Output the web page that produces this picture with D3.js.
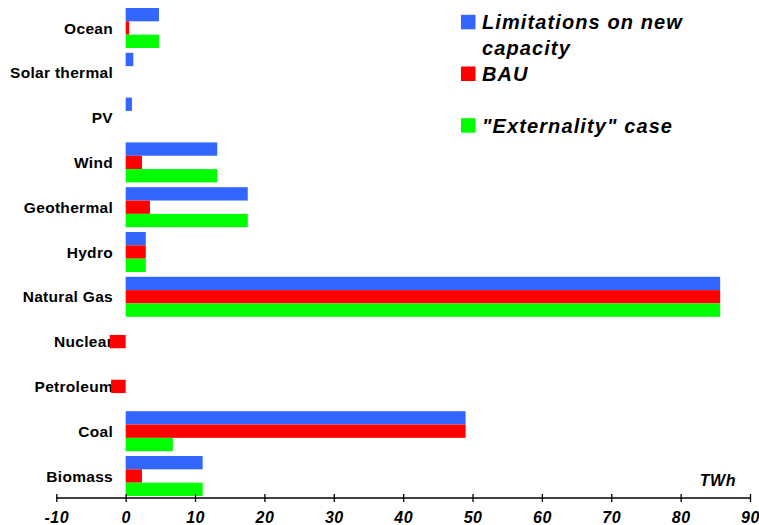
<!DOCTYPE html>
<html><head><meta charset="utf-8">
<script src="https://cdn.jsdelivr.net/npm/d3@7"></script>
<style>
html,body{margin:0;padding:0;background:#fff;}
svg{display:block;}
</style>
</head><body>
<svg id="chart" width="759" height="525"></svg>
<script>
const categories = ["Ocean","Solar thermal","PV","Wind","Geothermal","Hydro","Natural Gas","Nuclear","Petroleum","Coal","Biomass"];
const seriesNames = ["Limitations on new capacity","BAU","\"Externality\" case"];
const limitations = [4.8, 1.1, 0.9, 13.2, 17.6, 2.9, 85.7, 0, 0, 49.0, 11.1];
const bau         = [0.5, 0, 0, 2.35, 3.5, 2.9, 85.7, -2.3, -2.1, 49.0, 2.35];
const externality = [4.8, 0, 0, 13.2, 17.6, 2.9, 85.7, 0, 0, 6.8, 11.1];
const xTicks = [-10,0,10,20,30,40,50,60,70,80,90];
const unitLabel = "TWh";
const colors = ["#3366FF","#FF0000","#00FF00"];

const seriesValues = [limitations, bau, externality];
const svg = d3.select("#chart");
const font = "'Liberation Sans', Arial, sans-serif";

const x = d3.scaleLinear().domain([-10, 90]).range([56.3, 750]);
const y = d3.scaleBand().domain(categories).range([5.6, 498.4]).paddingInner(0.107).paddingOuter(0.0535);
const ySub = d3.scaleBand().domain(d3.range(3)).range([0, y.bandwidth()]);

// category labels (drawn under bars)
svg.append("g").selectAll("text").data(categories).join("text")
  .attr("x", 113).attr("y", d => y(d) + y.bandwidth()/2)
  .attr("dy", "0.36em")
  .attr("text-anchor", "end")
  .attr("font-family", font).attr("font-weight", "bold").attr("font-size", 15.5)
  .attr("letter-spacing", "0.3px")
  .attr("fill", "#000")
  .text(d => d);

// bars
const rows = [];
categories.forEach((c, i) => seriesValues.forEach((s, j) => { if (s[i] !== 0) rows.push({c, j, v: s[i]}); }));
svg.append("g").selectAll("rect").data(rows).join("rect")
  .attr("x", d => x(Math.min(0, d.v)))
  .attr("width", d => Math.abs(x(d.v) - x(0)))
  .attr("y", d => y(d.c) + ySub(d.j))
  .attr("height", ySub.bandwidth())
  .attr("fill", d => colors[d.j]);

// x axis
const axis = d3.axisBottom(x).tickValues(xTicks).tickSize(4).tickFormat(d => String(d));
const gx = svg.append("g").attr("transform", "translate(0,498)").call(axis);
gx.select(".domain").attr("stroke", "#000").attr("stroke-width", 1.5).attr("d", `M${x(-10)},0H${x(90)}`);
gx.selectAll(".tick line").attr("y1", -4).attr("y2", 4).attr("stroke", "#000").attr("stroke-width", 1.3);
gx.selectAll(".tick text")
  .attr("y", 25).attr("dy", 0)
  .attr("font-family", font).attr("font-weight", "bold").attr("font-style", "italic")
  .attr("font-size", 16).attr("letter-spacing", "0.5px").attr("fill", "#000");

svg.append("text").attr("x", 736).attr("y", 486).attr("text-anchor", "end")
  .attr("font-family", font).attr("font-weight", "bold").attr("font-style", "italic")
  .attr("font-size", 16).attr("letter-spacing", "0.5px").text(unitLabel);

// legend
const legend = svg.append("g");
const legendLines = [["Limitations on new", "capacity"], ["BAU"], ["\"Externality\" case"]];
const legendBase = [29.3, 81, 132.7];
legendLines.forEach((lines, i) => {
  legend.append("rect").attr("x", 461).attr("y", legendBase[i] - 14.5)
    .attr("width", 14.5).attr("height", 14.5).attr("fill", colors[i]);
  lines.forEach((t, k) => {
    legend.append("text").attr("x", 482).attr("y", legendBase[i] + k*25.2)
      .attr("font-family", font).attr("font-weight", "bold").attr("font-style", "italic")
      .attr("font-size", 20).attr("letter-spacing", "1.1px").text(t);
  });
});
</script>
</body></html>
